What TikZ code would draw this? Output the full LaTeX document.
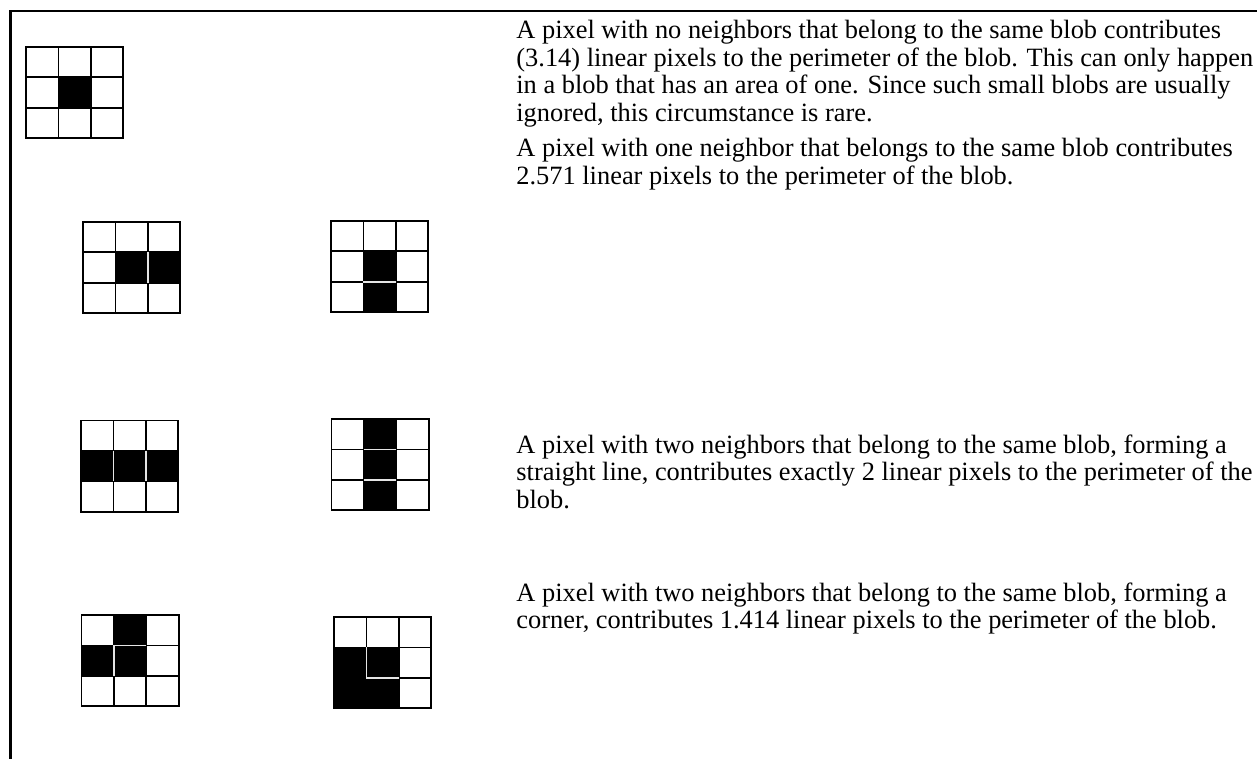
\documentclass[tikz,border=0pt]{standalone}
\usepackage{fontspec}
\setmainfont{Liberation Serif}
\tikzset{
    pixcells/.style={x=16.2pt, y=-15.2pt},
    gridline/.style={line width=0.9pt, draw=black, line cap=rect},
    seam/.style={line width=0.8pt, draw=black!10},
    frame/.style={line width=1.1pt},
    note/.style={anchor=base west, align=left, inner sep=0pt,
        font=\fontsize{13.2}{13.75}\selectfont}
}
\newcommand{\pixlines}{%
    \foreach \i in {0,...,3}
        \draw[gridline] (\i,0) -- (\i,3) (0,\i) -- (3,\i);}
\begin{document}
\begin{tikzpicture}[x=0.5pt, y=-0.5pt]
    \useasboundingbox (0,0) rectangle (1257,759);
    \draw[frame] (1257,11) -| (10.5,759);

    % no neighbor
    \begin{scope}[shift={(26,47)}, pixcells]
        \fill (1,1) rectangle (2,2);
        \pixlines
    \end{scope}

    % one neighbor
    \begin{scope}[shift={(83,222)}, pixcells]
        \fill (1,1) rectangle (3,2);
        \pixlines
        \draw[seam] (2,1) -- (2,2);
    \end{scope}
    \begin{scope}[shift={(331,221)}, pixcells]
        \fill (1,1) rectangle (2,3);
        \pixlines
        \draw[seam] (1,2) -- (2,2);
    \end{scope}

    % straight line
    \begin{scope}[shift={(81,420.5)}, pixcells]
        \fill (0,1) rectangle (3,2);
        \pixlines
        \draw[seam] (1,1) -- (1,2) (2,1) -- (2,2);
    \end{scope}
    \begin{scope}[shift={(331.5,419)}, pixcells]
        \fill (1,0) rectangle (2,3);
        \pixlines
        \draw[seam] (1,1) -- (2,1) (1,2) -- (2,2);
    \end{scope}

    % corner
    \begin{scope}[shift={(81.5,615)}, pixcells]
        \fill (1,0) rectangle (2,2) (0,1) rectangle (1,2);
        \pixlines
        \draw[seam] (1,1) -- (2,1) (1,1) -- (1,2);
    \end{scope}
    \begin{scope}[shift={(334,617)}, pixcells]
        \fill (0,1) rectangle (2,3);
        \pixlines
        \draw[seam] (1,1) -- (1,2) -- (2,2);
    \end{scope}

    % base = last line
    \node[note] (note1) at (516,121.5) {A pixel with no neighbors that belong to the same blob contributes\\
        (3.14) linear pixels to the perimeter of the blob. This can only happen\\
        in a blob that has an area of one. Since such small blobs are usually\\
        ignored, this circumstance is rare.};
    \node[note] (note2) at (516,184.5) {A pixel with one neighbor that belongs to the same blob contributes\\
        2.571 linear pixels to the perimeter of the blob.};
    \node[note] (note3) at (516,508) {A pixel with two neighbors that belong to the same blob, forming a\\
        straight line, contributes exactly 2 linear pixels to the perimeter of the\\
        blob.};
    \node[note] (note4) at (516,628.5) {A pixel with two neighbors that belong to the same blob, forming a\\
        corner, contributes 1.414 linear pixels to the perimeter of the blob.};
\end{tikzpicture}
\end{document}
